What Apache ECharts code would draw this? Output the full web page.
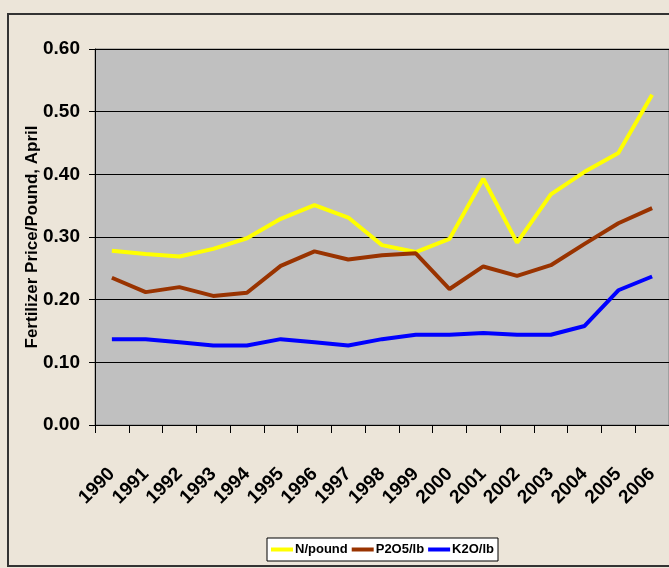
<!DOCTYPE html>
<html>
<head>
<meta charset="utf-8">
<script src="https://cdn.jsdelivr.net/npm/echarts@6/dist/echarts.min.js"></script>
<style>
  html, body { margin: 0; padding: 0; background: #ece5d9; }
  #chart { width: 669px; height: 568px; }
</style>
</head>
<body>
<div id="chart"></div>
<script>
// data
var years = ["1990", "1991", "1992", "1993", "1994", "1995", "1996", "1997", "1998",
  "1999", "2000", "2001", "2002", "2003", "2004", "2005", "2006"];
var nPound = [0.278, 0.273, 0.269, 0.281, 0.298, 0.329, 0.351, 0.331, 0.287,
  0.276, 0.297, 0.393, 0.291, 0.368, 0.404, 0.434, 0.527];
var p2o5 = [0.235, 0.212, 0.220, 0.206, 0.211, 0.254, 0.277, 0.264, 0.271,
  0.274, 0.217, 0.253, 0.238, 0.255, 0.289, 0.322, 0.346];
var k2o = [0.137, 0.137, 0.132, 0.127, 0.127, 0.137, 0.132, 0.127, 0.137,
  0.144, 0.144, 0.147, 0.144, 0.144, 0.158, 0.215, 0.237];

var font = '"Liberation Sans", Arial, sans-serif';

var myChart = echarts.init(document.getElementById("chart"));
myChart.setOption({
  backgroundColor: "#ece5d9",
  animation: false,
  graphic: [
    {
      // outer frame
      type: "rect",
      shape: { x: 8, y: 14, width: 700, height: 552 },
      style: { fill: "none", stroke: "#333", lineWidth: 2 },
      silent: true,
    },
  ],
  grid: {
    left: 95,
    top: 49,
    width: 580,
    height: 376,
    show: true,
    backgroundColor: "#c0c0c0",
    borderColor: "#808080",
    borderWidth: 1,
  },
  legend: {
    data: ["N/pound", "P2O5/lb", "K2O/lb"],
    left: 267,
    top: 538,
    padding: [5, 4],
    itemGap: 4,
    itemWidth: 22,
    itemHeight: 4,
    icon: "rect",
    backgroundColor: "#fff",
    borderColor: "#000",
    borderWidth: 1,
    borderRadius: 0,
    textStyle: {
      color: "#000",
      fontFamily: font,
      fontWeight: "bold",
      fontSize: 13,
      padding: [0, 0, 0, -3],
    },
  },
  xAxis: {
    type: "category",
    data: years,
    boundaryGap: true,
    axisLine: { lineStyle: { color: "#000", width: 1 } },
    axisTick: { show: true, length: 8, lineStyle: { color: "#000" } },
    axisLabel: {
      rotate: 45,
      margin: 46,
      interval: 0,
      color: "#000",
      fontFamily: font,
      fontWeight: "bold",
      fontSize: 19,
    },
    splitLine: { show: false },
  },
  yAxis: {
    type: "value",
    min: 0,
    max: 0.6,
    interval: 0.1,
    name: "Fertilizer Price/Pound, April",
    nameLocation: "middle",
    nameRotate: 90,
    nameGap: 54,
    nameMoveOverlap: false,
    nameTextStyle: {
      color: "#000",
      fontFamily: font,
      fontWeight: "bold",
      fontSize: 17,
    },
    axisLine: { show: true, lineStyle: { color: "#000", width: 1 } },
    axisTick: { show: true, length: 6, lineStyle: { color: "#000" } },
    axisLabel: {
      margin: 15,
      color: "#000",
      fontFamily: font,
      fontWeight: "bold",
      fontSize: 19,
      formatter: function (v) {
        return v.toFixed(2);
      },
    },
    splitLine: { show: true, lineStyle: { color: "#000", width: 1 } },
  },
  series: [
    {
      name: "N/pound",
      type: "line",
      data: nPound,
      symbol: "none",
      lineStyle: { color: "#ffff00", width: 4 },
      itemStyle: { color: "#ffff00" },
    },
    {
      name: "P2O5/lb",
      type: "line",
      data: p2o5,
      symbol: "none",
      lineStyle: { color: "#993300", width: 4 },
      itemStyle: { color: "#993300" },
    },
    {
      name: "K2O/lb",
      type: "line",
      data: k2o,
      symbol: "none",
      lineStyle: { color: "#0000ff", width: 4 },
      itemStyle: { color: "#0000ff" },
    },
  ],
});
</script>
</body>
</html>
